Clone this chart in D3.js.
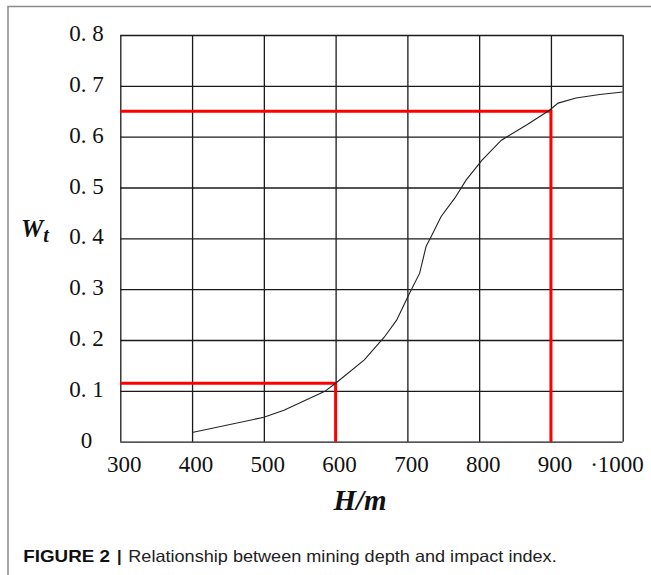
<!DOCTYPE html>
<html>
<head>
<meta charset="utf-8">
<script src="https://cdn.jsdelivr.net/npm/d3@7"></script>
<style>
  body { margin: 0; background: #fff; }
</style>
</head>
<body>
<div id="chart"></div>
<script>
// values
const depth = [400, 500, 528, 585, 600, 640, 668, 685, 703, 717, 726, 733, 747, 766, 782, 804, 831, 866, 898, 910, 935, 968, 1000];
const wt = [0.018, 0.048, 0.062, 0.099, 0.115, 0.161, 0.206, 0.239, 0.292, 0.331, 0.384, 0.403, 0.443, 0.479, 0.515, 0.554, 0.593, 0.623, 0.652, 0.666, 0.676, 0.683, 0.688];

const xTicks = [300, 400, 500, 600, 700, 800, 900, 1000];
const xLabels = ["300", "400", "500", "600", "700", "800", "900", "\u00b71000"];
const yTicks = [0, 0.1, 0.2, 0.3, 0.4, 0.5, 0.6, 0.7, 0.8];
const yLabels = ["0", "0. 1", "0. 2", "0. 3", "0. 4", "0. 5", "0. 6", "0. 7", "0. 8"];

// red read-off guides
const guideDepth = [600, 900];
const guideWt = [0.115, 0.65];

const width = 651, height = 575;
const serif = "'Liberation Serif', 'Times New Roman', serif";
const sans = "'Liberation Sans', Arial, sans-serif";

const svg = d3.select("#chart")
    .append("svg")
    .attr("width", width)
    .attr("height", height);

// page frame (top + left edge)
svg.append("path")
    .attr("d", "M8,575 V6.5 H651")
    .attr("fill", "none")
    .attr("stroke", "#8a8a8a")
    .attr("stroke-width", 1.5);

const x = d3.scaleLinear().domain([300, 1000]).range([120.3, 622.7]);
const y = d3.scaleLinear().domain([0, 0.8]).range([441.7, 35]);

// vertical grid + x labels
const gx = svg.append("g")
    .attr("transform", `translate(0, ${y(0)})`)
    .call(d3.axisBottom(x)
        .tickValues(xTicks)
        .tickSize(-(y(0) - y(0.8)))
        .tickFormat((d, i) => xLabels[i]));

// horizontal grid + y labels
const gy = svg.append("g")
    .attr("transform", `translate(${x(300)}, 0)`)
    .call(d3.axisLeft(y)
        .tickValues(yTicks)
        .tickSize(-(x(1000) - x(300)))
        .tickFormat((d, i) => yLabels[i]));

[gx, gy].forEach(g => {
  g.select(".domain").remove();
  g.selectAll(".tick line")
      .attr("stroke", "#1a1a1a")
      .attr("stroke-width", 1.3);
  g.selectAll(".tick text")
      .attr("font-family", serif)
      .attr("font-size", 23)
      .attr("fill", "#111");
});

gx.selectAll(".tick text")
    .attr("y", 30)
    .attr("dy", 0)
    .attr("dx", 3.5)
    .filter((d) => d === 1000)
    .attr("text-anchor", "end")
    .attr("dx", 20.6);

gy.selectAll(".tick text")
    .attr("x", -33.8)
    .attr("dy", 5.5)
    .attr("text-anchor", "middle");

// red guides
svg.append("g")
    .selectAll("path")
    .data(guideDepth)
    .join("path")
    .attr("d", (d, i) => `M${x(300)},${y(guideWt[i])} H${x(d)} V${y(0)}`)
    .attr("fill", "none")
    .attr("stroke", "#ff0000")
    .attr("stroke-width", 3);

// the curve
const line = d3.line()
    .x((d, i) => x(depth[i]))
    .y(d => y(d));

svg.append("path")
    .datum(wt)
    .attr("d", line)
    .attr("fill", "none")
    .attr("stroke", "#222")
    .attr("stroke-width", 1.1);

// axis titles
const wLabel = svg.append("text")
    .attr("x", 21)
    .attr("y", 236.5)
    .attr("font-family", serif)
    .attr("font-weight", "bold")
    .attr("font-style", "italic")
    .attr("font-size", 25)
    .attr("fill", "#111");
wLabel.append("tspan").text("W");
wLabel.append("tspan").attr("dy", 5).attr("font-size", 20).text("t");

svg.append("text")
    .attr("x", 360)
    .attr("y", 509.5)
    .attr("text-anchor", "middle")
    .attr("font-family", serif)
    .attr("font-weight", "bold")
    .attr("font-style", "italic")
    .attr("font-size", 29)
    .attr("fill", "#111")
    .text("H/m");

// caption
svg.append("text")
    .attr("x", 23.3)
    .attr("y", 561.5)
    .attr("font-family", sans)
    .attr("font-weight", "bold")
    .attr("font-size", 16.5)
    .attr("textLength", 86.7)
    .attr("lengthAdjust", "spacingAndGlyphs")
    .attr("fill", "#111")
    .text("FIGURE 2");

svg.append("text")
    .attr("x", 117)
    .attr("y", 561.5)
    .attr("font-family", sans)
    .attr("font-weight", "bold")
    .attr("font-size", 16.5)
    .attr("fill", "#111")
    .text("|");

svg.append("text")
    .attr("x", 128.3)
    .attr("y", 561.5)
    .attr("font-family", sans)
    .attr("font-size", 16.5)
    .attr("textLength", 428.4)
    .attr("lengthAdjust", "spacingAndGlyphs")
    .attr("fill", "#222")
    .text("Relationship between mining depth and impact index.");
</script>
</body>
</html>
